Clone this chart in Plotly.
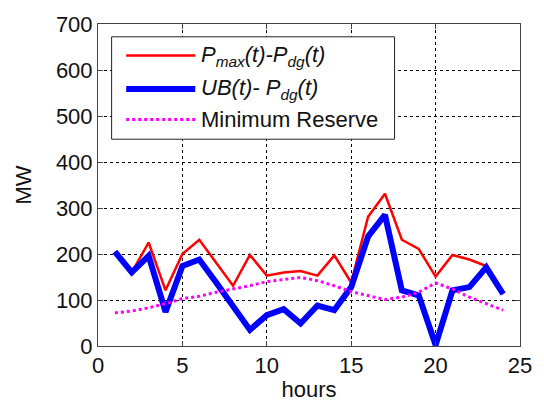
import plotly.graph_objects as go

hours = list(range(1, 25))
pmax_minus_pdg = [205, 160, 225, 121, 200, 231, 181, 131, 198, 153, 160, 163,
                  153, 197, 138, 281, 331, 231, 211, 151, 198, 188, 174, 113]
ub_minus_pdg = [205, 160, 196, 74, 174, 188, 138, 88, 35, 67, 80, 49,
                88, 78, 128, 238, 285, 121, 110, 2, 121, 128, 171, 113]
min_reserve = [72, 76, 83, 92, 103, 108, 117, 124, 131, 140, 144, 149,
               142, 131, 118, 110, 101, 106, 117, 137, 124, 106, 92, 78]

legend_labels = ["<i>P<sub>max</sub>(t)-P<sub>dg</sub>(t)</i>",
                 "<i>UB(t)- P<sub>dg</sub>(t)</i>",
                 "Minimum Reserve"]

W, H = 544, 410
L, R, T, B = 98, 12, 21, 62
pw, ph = W - L - R, H - T - B


def px(x):
    return (x - L) / pw


def py(y):
    return (H - B - y) / ph


FONT = "Liberation Sans, Arial, sans-serif"

fig = go.Figure()
fig.add_trace(go.Scatter(x=hours, y=pmax_minus_pdg, mode="lines",
                         line=dict(color="#ff0000", width=2.5), showlegend=False))
fig.add_trace(go.Scatter(x=hours, y=ub_minus_pdg, mode="lines",
                         line=dict(color="#0000ff", width=6), showlegend=False))
fig.add_trace(go.Scatter(x=hours, y=min_reserve, mode="lines",
                         line=dict(color="#ff00ff", width=3, dash="dot"),
                         showlegend=False))

axis_common = dict(
    showline=True, linecolor="#444", linewidth=1, mirror="allticks",
    ticks="inside", ticklen=5, tickcolor="#444",
    showgrid=True, gridcolor="#000", gridwidth=1, griddash="3px,3px",
    zeroline=False, tickfont=dict(family=FONT, size=22, color="#111"),
)
fig.update_xaxes(range=[0, 25], tickvals=[0, 5, 10, 15, 20, 25],
                 title=dict(text="hours", font=dict(family=FONT, size=22, color="#111"),
                            standoff=4),
                 **axis_common)
fig.update_yaxes(range=[0, 700], tickvals=list(range(0, 701, 100)),
                 title=dict(text="MW", font=dict(family=FONT, size=22, color="#111"),
                            standoff=18),
                 **axis_common)

# manual legend
shapes = [dict(type="rect", xref="paper", yref="paper",
               x0=px(112), x1=px(403), y0=py(138), y1=py(34),
               line=dict(color="#222", width=1), fillcolor="white", layer="above")]
legend_style = [("#ff0000", 2.5, "solid", 53), ("#0000ff", 6, "solid", 87),
                ("#ff00ff", 3, "dot", 118)]
annotations = []
for (col, wdt, dsh, yy), lab in zip(legend_style, legend_labels):
    shapes.append(dict(type="line", xref="paper", yref="paper",
                       x0=px(127), x1=px(198), y0=py(yy), y1=py(yy),
                       line=dict(color=col, width=wdt, dash=dsh), layer="above"))
    annotations.append(dict(xref="paper", yref="paper", x=px(202), y=py(yy),
                            xanchor="left", yanchor="middle", showarrow=False,
                            text=lab, font=dict(family=FONT, size=22, color="#111")))

fig.update_layout(
    width=W, height=H,
    margin=dict(l=L, r=R, t=T, b=B),
    paper_bgcolor="white", plot_bgcolor="white",
    shapes=shapes, annotations=annotations,
)

fig.write_html("out.html")
